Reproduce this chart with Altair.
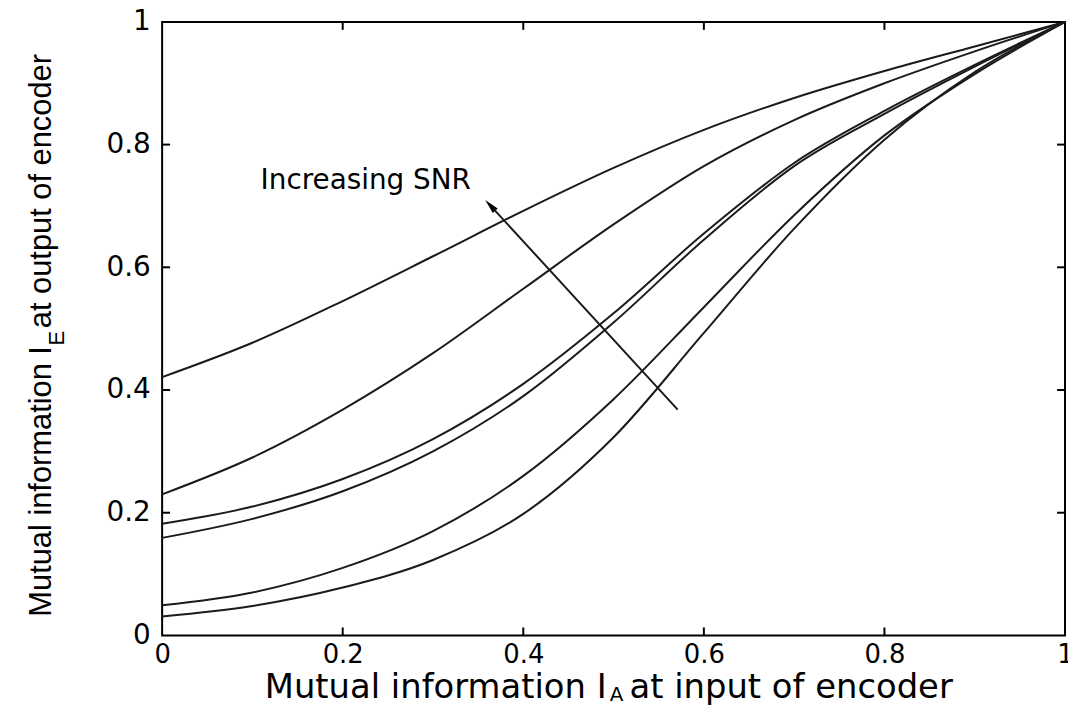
import altair as alt
import pandas as pd

# ---- data ----
ia_values = [0.0, 0.1, 0.2, 0.3, 0.4, 0.5, 0.6, 0.7, 0.8, 0.9, 1.0]
curve_1 = [0.421, 0.477, 0.545, 0.618, 0.692, 0.762, 0.824, 0.876, 0.920, 0.960, 1.0]
curve_2 = [0.230, 0.290, 0.368, 0.460, 0.565, 0.670, 0.765, 0.840, 0.900, 0.952, 1.0]
curve_3 = [0.182, 0.210, 0.255, 0.320, 0.410, 0.525, 0.655, 0.770, 0.855, 0.930, 1.0]
curve_4 = [0.159, 0.190, 0.235, 0.300, 0.390, 0.510, 0.645, 0.765, 0.850, 0.927, 1.0]
curve_5 = [0.049, 0.070, 0.110, 0.170, 0.260, 0.385, 0.535, 0.685, 0.815, 0.915, 1.0]
curve_6 = [0.031, 0.048, 0.078, 0.123, 0.198, 0.323, 0.493, 0.663, 0.808, 0.918, 1.0]
curve_names = ["c1", "c2", "c3", "c4", "c5", "c6"]
tick_values = [0.2, 0.4, 0.6, 0.8]
axis_values = [0, 0.2, 0.4, 0.6, 0.8, 1]
arrow_tail = (0.571, 0.368)
arrow_head = (0.3634, 0.701)
annotation = "Increasing SNR"

rows = []
for name, ys in zip(curve_names, [curve_1, curve_2, curve_3, curve_4, curve_5, curve_6]):
    for x, y in zip(ia_values, ys):
        rows.append({"curve": name, "IA": x, "IE": y})
df = pd.DataFrame(rows)
ticks_x = pd.DataFrame({"IA": tick_values})
ticks_y = pd.DataFrame({"IE": tick_values})
one = pd.DataFrame({"k": [0]})

W, H = 908, 617
TICK_FONT = "DejaVu Sans"
YTITLE_FONT = "Liberation Sans"

xscale = alt.Scale(domain=[0, 1], nice=False, zero=False)
yscale = alt.Scale(domain=[0, 1], nice=False, zero=False)
ax_x = alt.Axis(values=axis_values, format="~g", title=None, ticks=False, domain=False, grid=False,
                labelFont=TICK_FONT, labelFontSize=26, labelColor="black", labelPadding=6,
                labelFlush=False, labelOverlap=False, labelBound=False)
ax_y = alt.Axis(values=axis_values, format="~g", title=None, ticks=False, domain=False, grid=False,
                labelFont=TICK_FONT, labelFontSize=28, labelColor="black", labelPadding=12,
                labelFlush=False, labelOverlap=False, labelBound=False)

lines = alt.Chart(df).mark_line(interpolate="monotone", color="#1b1b1b", strokeWidth=2).encode(
    x=alt.X("IA:Q", scale=xscale, axis=ax_x),
    y=alt.Y("IE:Q", scale=yscale, axis=ax_y),
    detail="curve:N",
)

tick_style = dict(color="black", strokeWidth=2)
xt_bottom = alt.Chart(ticks_x).mark_rule(**tick_style).encode(
    x=alt.X("IA:Q", scale=xscale, axis=ax_x), y=alt.value(H), y2=alt.value(H - 8))
xt_top = alt.Chart(ticks_x).mark_rule(**tick_style).encode(
    x=alt.X("IA:Q", scale=xscale, axis=ax_x), y=alt.value(0), y2=alt.value(8))
yt_left = alt.Chart(ticks_y).mark_rule(**tick_style).encode(
    y=alt.Y("IE:Q", scale=yscale, axis=ax_y), x=alt.value(0), x2=alt.value(8))
yt_right = alt.Chart(ticks_y).mark_rule(**tick_style).encode(
    y=alt.Y("IE:Q", scale=yscale, axis=ax_y), x=alt.value(W), x2=alt.value(W - 8))

arrow_line = alt.Chart(one).mark_rule(color="#1b1b1b", strokeWidth=2).encode(
    x=alt.XDatum(arrow_tail[0], axis=ax_x), y=alt.YDatum(arrow_tail[1], axis=ax_y),
    x2=alt.datum(arrow_head[0]), y2=alt.datum(arrow_head[1]))
arrow_tip = alt.Chart(one).mark_point(shape="M0,-1L0.45,1L-0.45,1Z", filled=True, color="black",
                                      size=220, angle=317, opacity=1).encode(
    x=alt.XDatum(arrow_head[0], axis=ax_x), y=alt.YDatum(arrow_head[1], axis=ax_y))

label = alt.Chart(one).mark_text(text=annotation, font=TICK_FONT, fontSize=28,
                                 align="left", baseline="middle", color="black").encode(
    x=alt.XDatum(0.109, axis=ax_x), y=alt.YDatum(0.741, axis=ax_y))

# x-axis title with subscript A (pixel positions relative to the plot area)
xt1 = alt.Chart(one).mark_text(text="Mutual information I", font=TICK_FONT, fontSize=34,
                               align="right", baseline="alphabetic", color="black").encode(
    x=alt.value(447), y=alt.value(680))
xt2 = alt.Chart(one).mark_text(text="A", font=TICK_FONT, fontSize=20,
                               align="center", baseline="alphabetic", color="black").encode(
    x=alt.value(457), y=alt.value(683))
xt3 = alt.Chart(one).mark_text(text="at input of encoder", font=TICK_FONT, fontSize=34,
                               align="left", baseline="alphabetic", color="black").encode(
    x=alt.value(470), y=alt.value(680))

# y-axis title with subscript E
yt1 = alt.Chart(one).mark_text(text="Mutual information I", font=YTITLE_FONT, fontSize=31,
                               angle=270, align="right", baseline="middle", color="black").encode(
    x=alt.value(-121), y=alt.value(326))
yt2 = alt.Chart(one).mark_text(text="E", font=YTITLE_FONT, fontSize=22,
                               angle=270, align="center", baseline="middle", color="black").encode(
    x=alt.value(-106), y=alt.value(318))
yt3 = alt.Chart(one).mark_text(text="at output of encoder", font=YTITLE_FONT, fontSize=31,
                               angle=270, align="left", baseline="middle", color="black").encode(
    x=alt.value(-121), y=alt.value(308))

chart = alt.layer(
    lines, xt_bottom, xt_top, yt_left, yt_right, arrow_line, arrow_tip, label,
    xt1, xt2, xt3, yt1, yt2, yt3,
).properties(
    width=W, height=H,
    autosize=alt.AutoSizeParams(type="none"),
    padding={"left": 155, "top": 12, "right": 3, "bottom": 68},
    background="white",
).configure_view(stroke="black", strokeWidth=2)

chart.save("out.html", embed_options={"renderer": "svg", "actions": False})
